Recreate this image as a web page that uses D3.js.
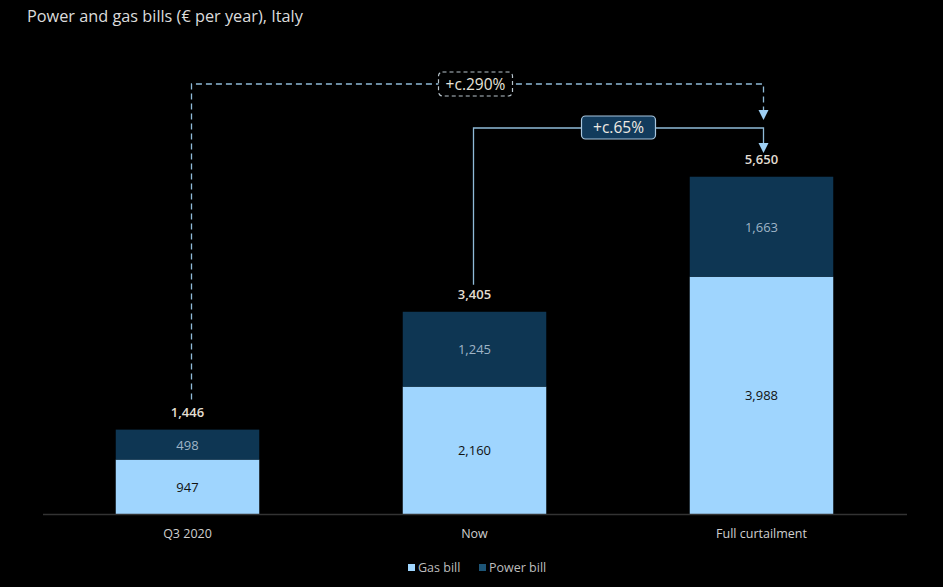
<!DOCTYPE html>
<html><head><meta charset="utf-8">
<script src="https://cdn.jsdelivr.net/npm/d3@7"></script>
<style>
html,body{margin:0;padding:0;background:#000;}
svg{display:block;}
text{font-family:"Open Sans","Noto Sans",sans-serif;}
</style></head>
<body>
<svg id="c" width="943" height="587"></svg>
<script>
const categories = ["Q3 2020", "Now", "Full curtailment"];
const gasBill = [947, 2160, 3988];
const powerBill = [498, 1245, 1663];
const totals = [1446, 3405, 5650];
const seriesNames = ["Gas bill", "Power bill"];
const changeLabels = ["+c.290%", "+c.65%"];

const W = 943, H = 587;
const svg = d3.select("#c");
svg.append("rect").attr("width", W).attr("height", H).attr("fill", "#000");

const colors = {gas: "#9fd5fe", power: "#0e3653"};
const x = d3.scaleBand().domain(categories).range([44, 905]).paddingInner(0.5).paddingOuter(0.25);
const y = d3.scaleLinear().domain([0, 5650]).range([516.5, 176.8]);
const base = 514;
const fmt = d3.format(",");

// title
svg.append("text").attr("x", 27).attr("y", 22).attr("fill", "#dcdcdc")
  .attr("font-size", 16.3).text("Power and gas bills (€ per year), Italy");

const g = svg.append("g");
categories.forEach((c, i) => {
  const x0 = x(c), bw = x.bandwidth(), cx = x0 + bw / 2;
  const gTop = y(gasBill[i]);
  const tTop = y(gasBill[i] + powerBill[i]);
  g.append("rect").attr("x", x0).attr("y", gTop).attr("width", bw).attr("height", base - gTop).attr("fill", colors.gas);
  g.append("rect").attr("x", x0).attr("y", tTop).attr("width", bw).attr("height", gTop - tTop).attr("fill", colors.power);
  g.append("text").attr("x", cx).attr("y", (gTop + base) / 2 + 5).attr("text-anchor", "middle")
    .attr("font-size", 13).attr("fill", "#111").text(fmt(gasBill[i]));
  g.append("text").attr("x", cx).attr("y", (gTop + tTop) / 2 + 5).attr("text-anchor", "middle")
    .attr("font-size", 13).attr("fill", "#9fb4c6").text(fmt(powerBill[i]));
  g.append("text").attr("x", cx).attr("y", y(totals[i]) - 13).attr("text-anchor", "middle")
    .attr("font-size", 13).attr("font-weight", 600).attr("fill", "#e2ddd2").text(fmt(totals[i]));
});

// axis
const axis = d3.axisBottom(x).tickSize(0).tickPadding(15);
const ax = svg.append("g").attr("transform", `translate(0,${base})`).call(axis);
ax.select(".domain").attr("stroke", "#333").attr("stroke-width", 1.5).attr("d", "M43,0.5H907");
ax.selectAll("text").attr("fill", "#cfcfcf").attr("font-size", 12.5)
  .style("font-family", '"Open Sans","Noto Sans",sans-serif');

// connectors
const lineCol = "#8fbad8";
const c0 = x(categories[0]) + x.bandwidth() / 2 + 4;
const c1 = x(categories[1]) + x.bandwidth() / 2 - 1;
const c2 = x(categories[2]) + x.bandwidth() / 2 + 2;

function arrow(xc, yTip) {
  svg.append("path").attr("d", `M${xc - 5},${yTip - 10}L${xc + 5},${yTip - 10}L${xc},${yTip}Z`).attr("fill", "#9fd0f4");
}
// dashed +290%
svg.append("path").attr("d", `M${c0},${y(totals[0]) - 30}V84H${c2}V111`)
  .attr("fill", "none").attr("stroke", lineCol).attr("stroke-width", 1.3).attr("stroke-dasharray", "6,4");
arrow(c2, 120);
// solid +65%
svg.append("path").attr("d", `M${c1},${y(totals[1]) - 27}V128H${c2}V143`)
  .attr("fill", "none").attr("stroke", lineCol).attr("stroke-width", 1.3);
arrow(c2, 153);

// label boxes
const bx1 = x(categories[1]) + x.bandwidth() / 2 + 1;
svg.append("rect").attr("x", bx1 - 37).attr("y", 72).attr("width", 74).attr("height", 24).attr("rx", 4)
  .attr("fill", "#000").attr("stroke", "#b8c4cc").attr("stroke-width", 1.2).attr("stroke-dasharray", "4,3");
svg.append("text").attr("x", bx1).attr("y", 89.5).attr("text-anchor", "middle").attr("font-size", 15.5)
  .attr("fill", "#e8e4dc").text(changeLabels[0]);
const bx2 = (c1 + c2) / 2;
svg.append("rect").attr("x", bx2 - 37).attr("y", 116).attr("width", 74).attr("height", 23).attr("rx", 4)
  .attr("fill", "#123b5c").attr("stroke", "#a8c6de").attr("stroke-width", 1.2);
svg.append("text").attr("x", bx2).attr("y", 133).attr("text-anchor", "middle").attr("font-size", 15.5)
  .attr("fill", "#eeeae2").text(changeLabels[1]);

// legend
const leg = svg.append("g");
const legX = [408, 479];
seriesNames.forEach((n, i) => {
  leg.append("rect").attr("x", legX[i]).attr("y", 564).attr("width", 7).attr("height", 7)
    .attr("fill", i === 0 ? colors.gas : "#1d5577");
  leg.append("text").attr("x", legX[i] + 10).attr("y", 572).attr("font-size", 12.5)
    .attr("fill", "#bdbdbd").text(n);
});
</script>
</body></html>
